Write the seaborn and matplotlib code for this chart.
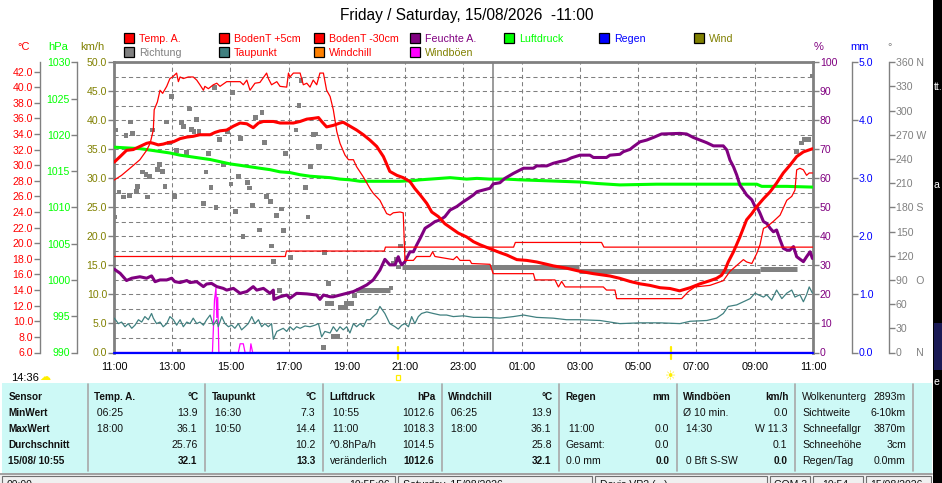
import numpy as np
import matplotlib
matplotlib.use("Agg")
import matplotlib.pyplot as plt
import matplotlib.transforms as mtransforms
from matplotlib.patches import Rectangle
import seaborn as sns

sns.set_style("white")
plt.rcParams['font.family'] = ['Liberation Sans', 'DejaVu Sans']
plt.rcParams['lines.scale_dashes'] = False

# colours used by the weather software
RED = '#ff0000'; GREEN = '#00ff00'; OLIVE = '#808000'; PURPLE = '#800080'
BLUE = '#0000ff'; GRAY = '#808080'; TEAL = '#408080'; ORANGE = '#ff8000'
MAGENTA = '#ff00ff'; CYAN_BG = '#cdf9f6'; YELLOW = '#ffee00'

# ---- data (time in hours from 11:00 Friday, >24 = Saturday) ----
t_temp = [11.01, 11.21, 11.43, 11.66, 11.89, 12.12, 12.24, 12.35, 12.52, 12.69, 12.87, 13.04,
          13.27, 13.50, 13.72, 13.95, 14.30, 14.47, 14.64, 14.87, 15.10, 15.33, 15.56, 15.78,
          15.96, 16.13, 16.47, 16.70, 16.93, 17.16, 17.39, 17.62, 17.84, 18.02, 18.13, 18.30,
          18.53, 18.76, 18.87, 19.10, 19.33, 19.56, 19.79, 20.02, 20.25, 20.47, 20.71, 20.93,
          21.16, 21.33, 21.51, 21.74, 21.91, 22.14, 22.36, 22.59, 22.82, 23.11, 23.34, 23.57,
          23.91, 24.25, 24.48, 24.83, 25.17, 25.51, 25.86, 26.08, 26.54, 27.00, 27.46, 28.03,
          28.37, 28.72, 29.06, 29.40, 29.75, 30.09, 30.42, 30.78, 31.12, 31.46, 31.69, 31.86,
          31.98, 32.09, 32.27, 32.49, 32.72, 32.90, 33.07, 33.30, 33.53, 33.75, 33.98, 34.21,
          34.44, 34.67, 34.98]
temp_a = [30.4, 31.1, 31.9, 32.0, 32.4, 32.8, 32.9, 32.8, 32.6, 32.7, 32.9, 33.0,
          33.4, 33.6, 33.7, 33.9, 33.9, 34.2, 34.4, 34.5, 35.0, 35.4, 35.3, 34.8,
          35.4, 35.6, 35.6, 35.4, 35.4, 35.4, 35.6, 35.9, 36.0, 36.1, 35.6, 34.9,
          35.1, 35.4, 35.5, 35.0, 34.5, 33.9, 33.2, 32.4, 31.1, 29.2, 28.7, 28.4,
          27.9, 27.0, 26.2, 25.1, 24.0, 23.4, 22.5, 21.9, 21.3, 20.8, 20.2, 19.8,
          19.3, 18.8, 18.5, 17.9, 17.8, 17.6, 17.3, 17.1, 16.8, 16.4, 16.1, 15.8,
          15.5, 15.1, 14.8, 14.6, 14.3, 14.2, 13.9, 14.3, 14.8, 15.2, 15.5, 15.9,
          16.6, 17.6, 18.9, 20.8, 23.0, 23.8, 24.7, 25.7, 26.6, 27.7, 29.0, 30.0,
          31.1, 31.7, 32.1]

t_boden5 = [11.01, 11.26, 11.61, 11.89, 12.12, 12.24, 12.35, 12.38, 12.49, 12.58, 12.67, 12.81,
            12.92, 13.01, 13.15, 13.21, 13.27, 13.38, 13.55, 13.72, 13.84, 13.95, 14.07, 14.12,
            14.24, 14.41, 14.53, 14.64, 14.87, 15.33, 15.44, 15.56, 15.67, 15.84, 16.01, 16.24,
            16.30, 16.41, 16.59, 16.70, 16.93, 16.99, 17.04, 17.16, 17.39, 17.50, 17.62, 17.73,
            17.84, 17.96, 18.07, 18.19, 18.30, 18.42, 18.53, 18.65, 18.76, 18.93, 19.05, 19.22,
            19.33, 19.56, 19.79, 19.90, 20.13, 20.36, 20.48, 20.59, 20.82, 20.93, 20.99, 21.28,
            21.39, 21.85, 21.94, 22.02, 22.65, 22.77, 22.88, 23.22, 23.28, 23.91, 24.02, 25.40,
            25.46, 26.14, 26.26, 26.37, 26.49, 27.80, 27.91, 28.20, 28.26, 30.49, 30.72, 30.95,
            31.46, 31.92, 32.15, 32.61, 32.72, 32.90, 33.07, 33.18, 33.30, 33.41, 33.64, 33.87,
            34.10, 34.27, 34.38, 34.44, 34.55, 34.67, 34.78, 34.87, 34.98]
boden_5 = [28.1, 28.7, 29.8, 30.7, 31.9, 32.8, 34.5, 37.1, 38.1, 39.6, 39.2, 40.1,
           41.1, 41.3, 41.8, 40.7, 41.3, 41.1, 41.3, 41.3, 40.9, 40.3, 39.6, 40.1,
           39.8, 40.3, 40.5, 40.1, 40.7, 40.7, 40.3, 40.9, 39.6, 40.5, 40.6, 41.8,
           41.1, 40.3, 40.7, 40.1, 40.0, 41.8, 41.3, 41.8, 41.8, 40.3, 40.5, 40.0,
           40.9, 40.3, 41.8, 41.8, 39.6, 38.8, 37.1, 34.3, 32.8, 31.3, 30.7, 30.7,
           29.8, 28.5, 27.0, 26.4, 25.5, 23.8, 23.6, 23.9, 24.0, 23.9, 17.8, 17.8,
           18.3, 18.3, 18.9, 18.3, 17.9, 18.3, 17.8, 17.8, 17.4, 17.3, 16.1, 16.1,
           15.3, 15.3, 14.4, 15.1, 14.4, 14.4, 14.0, 14.0, 12.9, 12.9, 13.8, 14.4,
           14.6, 15.2, 16.4, 17.9, 17.6, 17.4, 18.7, 19.8, 21.9, 22.1, 22.8, 23.6,
           25.5, 26.0, 26.8, 29.4, 29.6, 29.4, 28.7, 29.0, 29.0]

t_boden30 = [11.0, 16.88, 16.92, 20.28, 20.32, 24.72, 24.78, 27.74, 27.82, 35.0]
boden_30 = [18.3, 18.3, 19.0, 19.0, 19.5, 19.5, 20.1, 20.1, 19.5, 19.5]

t_dew = [11.01, 11.15, 11.26, 11.38, 11.49, 11.61, 11.72, 11.84, 11.95, 12.06, 12.18, 12.29,
         12.35, 12.46, 12.58, 12.69, 12.81, 12.92, 13.04, 13.15, 13.27, 13.38, 13.50, 13.61,
         13.72, 13.84, 13.95, 14.07, 14.18, 14.30, 14.41, 14.53, 14.58, 14.70, 14.81, 14.93,
         15.04, 15.15, 15.27, 15.38, 15.50, 15.61, 15.73, 15.84, 15.96, 16.07, 16.18, 16.30,
         16.41, 16.47, 16.59, 16.70, 16.81, 16.93, 17.04, 17.16, 17.27, 17.39, 17.56, 17.73,
         17.90, 18.02, 18.13, 18.24, 18.42, 18.53, 18.65, 18.76, 18.87, 18.99, 19.10, 19.22,
         19.33, 19.45, 19.56, 19.68, 19.79, 19.90, 20.02, 20.13, 20.30, 20.47, 20.65, 20.76,
         20.88, 20.99, 21.11, 21.22, 21.33, 21.45, 21.56, 21.74, 21.96, 22.20, 22.42, 22.65,
         23.00, 23.34, 23.79, 24.25, 24.71, 25.06, 25.51, 26.08, 26.54, 27.00, 27.69, 28.37,
         29.06, 29.75, 30.43, 30.78, 31.35, 31.69, 31.92, 32.09, 32.38, 32.61, 32.84, 33.01,
         33.12, 33.30, 33.41, 33.58, 33.75, 33.93, 34.10, 34.27, 34.38, 34.55, 34.67, 34.78,
         34.87, 34.98]
taupunkt = [10.4, 9.7, 9.9, 9.3, 9.7, 9.1, 9.5, 10.2, 9.9, 10.6, 10.2, 11.0,
            10.4, 9.7, 9.9, 9.3, 9.7, 10.6, 10.2, 9.5, 10.2, 9.3, 9.9, 9.7,
            10.4, 9.7, 9.9, 9.5, 10.2, 10.8, 9.5, 10.2, 9.3, 10.6, 9.7, 9.3,
            9.5, 9.1, 9.7, 8.9, 9.3, 9.7, 10.6, 9.7, 10.2, 9.3, 9.7, 9.3,
            9.7, 7.7, 8.7, 8.9, 9.1, 8.7, 9.3, 8.9, 9.3, 9.1, 9.4, 9.3,
            9.5, 9.7, 8.0, 8.7, 8.5, 9.3, 8.7, 9.3, 8.9, 9.3, 8.5, 9.7,
            9.3, 9.7, 9.3, 10.2, 10.2, 10.6, 11.0, 11.9, 11.0, 9.7, 9.3, 9.0,
            9.5, 9.7, 9.3, 10.6, 9.7, 10.6, 11.0, 11.2, 11.0, 10.8, 10.8, 10.6,
            10.7, 10.5, 10.5, 10.4, 10.6, 10.8, 10.5, 10.4, 10.2, 10.2, 10.1, 9.7,
            9.8, 9.8, 9.7, 10.0, 10.1, 10.4, 11.0, 11.9, 12.1, 12.5, 12.9, 13.6,
            13.4, 13.1, 13.4, 12.7, 14.0, 12.9, 13.6, 14.0, 13.1, 13.4, 12.5, 13.4,
            14.4, 13.6]

t_press = [11.01, 11.43, 11.89, 12.24, 12.58, 12.92, 13.27, 13.61, 13.95, 14.30, 14.64, 14.98,
           15.33, 15.67, 16.01, 16.36, 16.70, 17.04, 17.39, 17.73, 18.07, 18.42, 18.76, 19.10,
           19.45, 19.79, 20.48, 20.82, 21.28, 21.51, 22.20, 22.54, 23.11, 23.46, 23.91, 24.48,
           24.94, 25.63, 26.31, 27.00, 27.57, 28.37, 29.63, 31.12, 32.49, 33.07, 33.24, 34.10,
           34.98]
luftdruck = [1018.3, 1018.2, 1018.1, 1017.9, 1017.7, 1017.5, 1017.2, 1017.0, 1016.8, 1016.6,
             1016.3, 1016.0, 1015.8, 1015.6, 1015.4, 1015.2, 1014.9, 1014.8, 1014.5, 1014.3,
             1014.2, 1014.1, 1013.9, 1013.8, 1013.6, 1013.6, 1013.6, 1013.6, 1013.7, 1013.8,
             1014.0, 1014.1, 1013.9, 1014.0, 1013.9, 1013.9, 1013.8, 1013.7, 1013.6, 1013.5,
             1013.3, 1013.1, 1013.2, 1013.2, 1013.2, 1013.2, 1012.9, 1012.9, 1012.8]

t_hum = [11.01, 11.21, 11.43, 11.61, 11.89, 12.12, 12.29, 12.41, 12.58, 12.81, 12.98, 13.09,
         13.27, 13.50, 13.61, 13.84, 14.07, 14.18, 14.35, 14.53, 14.75, 14.87, 15.10, 15.33,
         15.56, 15.78, 15.90, 16.13, 16.36, 16.47, 16.49, 16.70, 16.93, 17.04, 17.27, 17.62,
         17.96, 18.07, 18.19, 18.42, 18.53, 18.76, 18.99, 19.22, 19.45, 19.68, 19.90, 20.13,
         20.30, 20.47, 20.65, 20.76, 20.82, 20.88, 20.99, 21.16, 21.28, 21.39, 21.51, 21.68,
         21.85, 22.02, 22.20, 22.36, 22.54, 22.77, 23.00, 23.17, 23.34, 23.46, 23.68, 23.91,
         24.02, 24.25, 24.42, 24.71, 24.94, 25.06, 25.40, 25.51, 25.86, 26.08, 26.31, 26.54,
         26.71, 27.00, 27.34, 27.46, 27.91, 28.03, 28.37, 28.49, 28.72, 28.83, 29.06, 29.29,
         29.52, 29.80, 30.43, 30.66, 30.89, 31.12, 31.35, 31.58, 31.92, 32.04, 32.15, 32.27,
         32.38, 32.49, 32.61, 32.72, 32.90, 33.01, 33.07, 33.18, 33.30, 33.41, 33.53, 33.64,
         33.75, 33.87, 33.98, 34.10, 34.21, 34.33, 34.44, 34.67, 34.78, 34.90, 34.98]
feuchte = [28.7, 27.3, 24.8, 25.6, 26.1, 25.6, 26.4, 24.4, 25.0, 25.0, 25.6, 24.4,
           24.1, 24.8, 24.1, 24.4, 22.7, 23.6, 23.8, 22.7, 22.1, 21.5, 22.1, 20.4,
           21.0, 22.7, 21.5, 22.1, 20.4, 21.5, 18.3, 19.2, 19.8, 18.7, 20.4, 20.2,
           19.8, 18.3, 19.8, 19.2, 19.2, 19.8, 20.4, 21.0, 22.1, 23.3, 25.0, 28.4,
           32.1, 30.2, 30.2, 33.0, 31.3, 30.2, 31.3, 34.7, 34.7, 37.0, 39.3, 42.8,
           43.9, 45.1, 45.7, 46.8, 49.1, 50.3, 52.0, 53.1, 54.3, 55.4, 56.0, 56.6,
           58.1, 58.5, 60.0, 61.7, 62.9, 63.5, 63.5, 64.3, 64.3, 65.2, 65.8, 66.3,
           67.1, 68.0, 68.0, 67.2, 67.2, 68.0, 68.3, 69.2, 70.0, 70.9, 72.6, 73.2,
           74.1, 75.3, 75.5, 75.3, 74.1, 73.2, 72.3, 71.2, 71.2, 69.8, 66.3, 64.0,
           61.2, 57.7, 56.0, 54.3, 52.6, 50.3, 50.3, 48.0, 45.1, 44.5, 42.8, 41.6,
           42.2, 38.8, 35.9, 35.3, 35.3, 36.5, 33.0, 31.3, 33.0, 34.7, 32.4]

t_gust = [11.0, 14.38, 14.45, 14.50, 14.53, 14.56, 14.60, 15.27, 15.33, 15.44, 15.50,
          15.67, 15.70, 15.76, 35.0]
windboeen = [0.0, 0.0, 9.0, 11.1, 6.0, 9.5, 0.0, 0.0, 1.5, 1.5, 0.0, 0.0, 1.5, 0.0, 0.0]

t_flat = [11.0, 35.0]
wind_kmh = [0.0, 0.0]
regen_mm = [0.0, 0.0]

t_dir = [11.03, 11.07, 11.17, 11.34, 11.41, 11.52, 11.58, 11.64, 11.76, 11.81, 11.99, 12.10,
         12.16, 12.21, 12.33, 12.50, 12.56, 12.67, 12.75, 12.81, 12.90, 12.98, 13.08, 13.15,
         13.23, 13.32, 13.40, 13.49, 13.58, 13.67, 13.75, 13.84, 13.92, 14.08, 14.16, 14.25,
         14.33, 14.44, 14.50, 14.61, 14.75, 14.91, 15.02, 15.07, 15.17, 15.27, 15.33, 15.43,
         15.59, 15.65, 15.76, 15.85, 16.00, 16.08, 16.16, 16.24, 16.36, 16.42, 16.49, 16.59,
         16.67, 16.75, 16.83, 16.88, 17.07, 17.25, 17.35, 17.42, 17.58, 17.66, 17.76, 17.84,
         17.93, 18.01, 18.07, 18.19, 18.22, 18.34, 18.37, 18.46, 18.53, 18.68, 18.76, 18.91,
         18.99, 19.16, 19.27, 20.51, 20.59, 20.70, 20.76, 20.84, 34.44, 34.61, 34.69, 34.84,
         34.98]
richtung = [168, 276, 199, 193, 269, 195, 286, 272, 200, 206, 224, 221,
            193, 218, 276, 227, 233, 225, 206, 286, 260, 318, 194, 251,
            1, 285, 280, 248, 302, 277, 274, 289, 274, 185, 224, 247,
            205, 329, 180, 264, 233, 274, 209, 323, 175, 218, 265, 144,
            211, 204, 182, 292, 152, 298, 261, 194, 187, 132, 113, 170,
            77, 178, 151, 247, 118, 276, 306, 337, 205, 168, 231, 270,
            271, 256, 256, 6, 124, 61, 86, 61, 20, 20, 56, 56,
            61, 61, 71, 80, 111, 115, 106, 132, 249, 260, 264, 264,
            343]
# periods of constant direction (dense dots -> bar)
dir_seg_start = [19.31, 20.88, 26.97, 33.18]
dir_seg_end = [20.48, 26.97, 33.18, 34.44]
dir_seg_deg = [77, 106.5, 101.5, 103.2]

sunset_h = 20.75
sunrise_h = 30.11

x_ticks = list(range(11, 36, 2))
x_labels = [f"{h % 24:02d}:00" for h in x_ticks]
deg_labels = ['0     N', '30', '60', '90   O', '120', '150', '180 S', '210', '240', '270 W',
              '300', '330', '360 N']

legend_labels = ['Temp. A.', 'BodenT +5cm', 'BodenT -30cm', 'Feuchte A.', 'Luftdruck', 'Regen', 'Wind',
                 'Richtung', 'Taupunkt', 'Windchill', 'Windböen']
legend_box = [RED, RED, RED, PURPLE, GREEN, BLUE, OLIVE, GRAY, TEAL, ORANGE, MAGENTA]
legend_txt = [RED, RED, RED, PURPLE, GREEN, BLUE, OLIVE, GRAY, RED, RED, OLIVE]

row_names = ['Sensor', 'MinWert', 'MaxWert', 'Durchschnitt', '15/08/ 10:55']
col_heads = ['Temp. A.', 'Taupunkt', 'Luftdruck', 'Windchill', 'Regen', 'Windböen']
col_units = ['°C', '°C', 'hPa', '°C', 'mm', 'km/h']
col_left = [[' 06:25', ' 18:00', '', ''], [' 16:30', ' 10:50', '', ''],
            [' 10:55', ' 11:00', '^0.8hPa/h', 'veränderlich'], [' 06:25', ' 18:00', '', ''],
            ['', ' 11:00', 'Gesamt:', '0.0 mm'], ['Ø 10 min.', ' 14:30', '', ' 0 Bft S-SW']]
col_right = [['13.9', '36.1', '25.76', '32.1'], ['7.3', '14.4', '10.2', '13.3'],
             ['1012.6', '1018.3', '1014.5', '1012.6'], ['13.9', '36.1', '25.8', '32.1'],
             ['', '0.0', '0.0', '0.0'], ['0.0', 'W 11.3', '0.1', '0.0']]
extra_names = ['Wolkenunterg', 'Sichtweite', 'Schneefallgr', 'Schneehöhe', 'Regen/Tag']
extra_vals = ['2893m', '6-10km', '3870m', '3cm', '0.0mm']

# ---- figure ----
W, H = 942, 483
fig = plt.figure(figsize=(W / 100, H / 100), dpi=100)
fig.patch.set_facecolor('white')


def fx(px):
    return px / W


def fy(py):
    return 1 - py / H


def rect(x, y, w, h, **kw):
    fig.patches.append(Rectangle((fx(x), fy(y + h)), w / W, h / H, transform=fig.transFigure, **kw))


def txt(x, y, s, **kw):
    kw.setdefault('va', 'baseline')
    fig.text(fx(x), fy(y), s, **kw)


PL, PR, PT, PB = 114, 813, 62.3, 352.5
ax = fig.add_axes([fx(PL), fy(PB), (PR - PL) / W, (PB - PT) / H])
ax.set_facecolor('white')


def twin(side, px):
    t = ax.twinx()
    for s in t.spines.values():
        s.set_visible(False)
    t.spines[side].set_visible(True)
    t.spines[side].set_position(('axes', (px - PL) / (PR - PL)))
    t.spines[side].set_color(GRAY)
    t.spines[side].set_linewidth(1)
    if side == 'left':
        t.yaxis.set_ticks_position('left')
    else:
        t.yaxis.set_ticks_position('right')
    return t


ax_deg = twin('right', 889)
ax_h = twin('left', 77)
ax_pct = twin('right', PR)
ax_pct.spines['right'].set_visible(False)
ax_c = twin('left', 40)
ax_mm = twin('right', 852)

# km/h axis: gusts and wind
sns.lineplot(x=t_gust, y=windboeen, ax=ax, color=MAGENTA, linewidth=0.9, estimator=None, sort=False)
sns.lineplot(x=t_flat, y=wind_kmh, ax=ax, color=OLIVE, linewidth=1.2, estimator=None, sort=False)

# direction
sns.scatterplot(x=t_dir, y=richtung, ax=ax_deg, marker='s', s=12, color=GRAY, edgecolor='none', linewidth=0)
for a, b, d in zip(dir_seg_start, dir_seg_end, dir_seg_deg):
    sns.lineplot(x=[a, b], y=[d, d], ax=ax_deg, color=GRAY, linewidth=3.6, estimator=None, sort=False,
                 solid_capstyle='butt')

sns.lineplot(x=t_press, y=luftdruck, ax=ax_h, color=GREEN, linewidth=2.2, estimator=None, sort=False)
sns.lineplot(x=t_hum, y=feuchte, ax=ax_pct, color=PURPLE, linewidth=2.2, estimator=None, sort=False)

sns.lineplot(x=t_dew, y=taupunkt, ax=ax_c, color=TEAL, linewidth=0.9, estimator=None, sort=False)
sns.lineplot(x=t_boden30, y=boden_30, ax=ax_c, color=RED, linewidth=0.9, estimator=None, sort=False)
sns.lineplot(x=t_boden5, y=boden_5, ax=ax_c, color=RED, linewidth=0.9, estimator=None, sort=False)
sns.lineplot(x=t_temp, y=temp_a, ax=ax_c, color=RED, linewidth=2.2, estimator=None, sort=False)

sns.lineplot(x=t_flat, y=regen_mm, ax=ax_mm, color=BLUE, linewidth=1.6, estimator=None, sort=False)
for ln in ax_mm.lines:
    ln.set_clip_on(False)

# ---- axes formatting ----
ax.set_xlim(11, 35)
ax.set_ylim(0, 50)
ax.set_yticks(np.arange(0, 50.1, 5))
ax.set_yticks(np.arange(2.5, 50, 5), minor=True)
ax.set_yticklabels([f"{v:.1f}" for v in np.arange(0, 50.1, 5)])
ax.tick_params(axis='y', which='major', left=True, length=4, width=1, color=GRAY, labelcolor=OLIVE,
               labelsize=7.6, pad=1)
ax.tick_params(axis='y', which='minor', length=0)
ax.set_xticks(x_ticks)
ax.set_xticklabels(x_labels)
ax.tick_params(axis='x', length=0, labelsize=7.8, pad=7, labelcolor='black')
ax.grid(True, which='both', axis='y', color=GRAY, linestyle=(0, (3, 2.2)), linewidth=0.75)
ax.grid(True, which='major', axis='x', color=GRAY, linestyle=(0, (3, 2.2)), linewidth=0.75)
ax.axvline(24, color=GRAY, linewidth=1.1, zorder=1)
for side in ['left', 'top', 'right']:
    ax.spines[side].set_color(GRAY)
    ax.spines[side].set_linewidth(2)
ax.spines['bottom'].set_visible(False)
ax.set_xlabel('')
ax.set_ylabel('')

ax_c.set_ylim(6, 43.18)
ax_c.set_yticks(np.arange(6, 42.1, 2))
ax_c.set_yticklabels([f"{v:.1f}" for v in np.arange(6, 42.1, 2)])
ax_h.set_ylim(990, 1030)
ax_h.set_yticks(np.arange(990, 1030.1, 5))
ax_h.set_yticklabels([f"{v:.0f}" for v in np.arange(990, 1030.1, 5)])
ax_pct.set_ylim(0, 100)
ax_pct.set_yticks(np.arange(0, 100.1, 10))
ax_pct.set_yticklabels([f"{v:.0f}" for v in np.arange(0, 100.1, 10)])
ax_mm.set_ylim(0, 5)
ax_mm.set_yticks(np.arange(0, 5.1, 1))
ax_mm.set_yticklabels([f"{v:.1f}" for v in np.arange(0, 5.1, 1)])
ax_deg.set_ylim(0, 360)
ax_deg.set_yticks(np.arange(0, 361, 30))
ax_deg.set_yticklabels(deg_labels)

for t, col in [(ax_c, RED), (ax_h, GREEN), (ax_pct, PURPLE), (ax_mm, BLUE), (ax_deg, GRAY)]:
    t.tick_params(axis='y', length=4, width=1, color=GRAY, labelcolor=col, labelsize=7.6, pad=1)
    t.set_ylabel('')
    t.set_xlabel('')
    t.set_xlim(11, 35)

# unit headers
txt(24, 50.5, '°C', color=RED, ha='center', fontsize=8)
txt(58, 50.5, 'hPa', color=GREEN, ha='center', fontsize=8)
txt(92, 50.5, 'km/h', color=OLIVE, ha='center', fontsize=8)
txt(819, 50.5, '%', color=PURPLE, ha='center', fontsize=8)
txt(860, 50.5, 'mm', color=BLUE, ha='center', fontsize=8)
txt(890, 50.5, '°', color=GRAY, ha='center', fontsize=8)

# title
txt(467, 20, 'Friday / Saturday, 15/08/2026  -11:00', ha='center', fontsize=11.2, color='black')

# legend
leg_x = [124, 219, 314, 410, 504, 599, 694, 124, 219, 314, 410]
leg_y = [32.7] * 7 + [46.7] * 4
for lab, bc, tc, lx, ly in zip(legend_labels, legend_box, legend_txt, leg_x, leg_y):
    rect(lx, ly, 10, 10, facecolor=bc, edgecolor='black', linewidth=0.9)
    txt(lx + 15, ly + 9, lab, color=tc, fontsize=7.7)

# sunrise / sunset markers
for h in [sunset_h, sunrise_h]:
    ax.axvline(h, ymin=-0.022, ymax=0.019, color=YELLOW, linewidth=1.6, clip_on=False, zorder=5)
bt = mtransforms.blended_transform_factory(ax.transData, fig.transFigure)
ax.add_patch(Rectangle((sunset_h - 0.08, fy(380)), 0.16, 5 / H, transform=bt, facecolor='none',
                       edgecolor=YELLOW, linewidth=0.9, clip_on=False))
ax.text(sunrise_h, fy(377), '☀', transform=bt, ha='center', va='center', color=YELLOW,
        fontsize=9, family='DejaVu Sans', clip_on=False)
txt(10.7, 381, '14:36', fontsize=8, color='black')
txt(45, 377, '☁', fontsize=8, color=YELLOW, family='DejaVu Sans', ha='center', va='center')

# ---- statistics table ----
rect(1.5, 382.7, 930, 90, facecolor=CYAN_BG, edgecolor='none')
seps = [88, 205, 323, 441.7, 559, 676.7, 795, 913]
for sx in seps:
    fig.add_artist(plt.Line2D([fx(sx), fx(sx)], [fy(384), fy(471)], color='#a8a8a8', linewidth=1.2))
row_y = [400, 416, 432, 447.7, 463.7]
TXT = '#111111'
for name, yy in zip(row_names, row_y):
    txt(8.3, yy, name, fontsize=7.2, fontweight='bold', color=TXT)
for i in range(6):
    left = seps[i] + 6.5
    right = seps[i + 1] - 6.5
    txt(left, row_y[0], col_heads[i], fontsize=7.2, fontweight='bold', color=TXT)
    txt(right, row_y[0], col_units[i], fontsize=7.2, fontweight='bold', color=TXT, ha='right')
    for r in range(4):
        txt(left, row_y[r + 1], col_left[i][r], fontsize=7.6, color=TXT)
        txt(right - 1, row_y[r + 1], col_right[i][r], fontsize=7.6 if r < 3 else 7.2,
            fontweight='normal' if r < 3 else 'bold', color=TXT, ha='right')
for name, val, yy in zip(extra_names, extra_vals, row_y):
    txt(802, yy, name, fontsize=7.6, color=TXT)
    txt(906, yy, val, fontsize=7.6, color=TXT, ha='right')

# status bar (cut by the window edge, as in the screenshot)
rect(0, 473.5, 932, 10, facecolor='#f0f0f0', edgecolor='none')
fig.add_artist(plt.Line2D([0, fx(932)], [fy(474), fy(474)], color='#a0a0a0', linewidth=1.4))
for bx0, bx1 in [(2, 395), (398, 592), (595, 767), (770, 810), (813, 863), (866, 931)]:
    rect(bx0, 476, bx1 - bx0, 14, facecolor='none', edgecolor='#707070', linewidth=0.8)
txt(7, 487.5, '00:00', fontsize=7.6, color=TXT)
txt(390, 487.5, '10:55:06', fontsize=7.6, color=TXT, ha='right')
txt(403, 487.5, 'Saturday, 15/08/2026', fontsize=7.6, color=TXT)
txt(600, 487.5, 'Davis VP2 (...)', fontsize=7.6, color=TXT)
txt(774, 487.5, 'COM 3', fontsize=7.6, color=TXT)
txt(822, 487.5, '10:54', fontsize=7.6, color=TXT)
txt(870, 487.5, '15/08/2026', fontsize=7.6, color=TXT)

# black window border at the right
rect(933, 0, 9, 483, facecolor='black', edgecolor='none')
rect(934, 323, 8, 47, facecolor='#1a1a55', edgecolor='none')
txt(934, 90, 'tt.', fontsize=7.6, color='white')
txt(934, 188, 'a', fontsize=7.6, color='white')
txt(934, 385, 'e', fontsize=7.6, color='white')

fig.savefig('out.png', dpi=100)
